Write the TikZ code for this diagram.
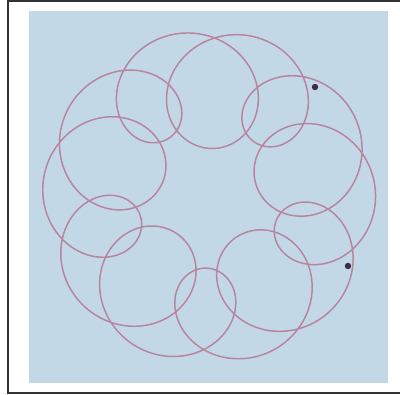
\documentclass[tikz,border=0pt]{standalone}
\usepackage{xcolor}
\definecolor{panelblue}{HTML}{C3D8E6}
\definecolor{spiromauve}{HTML}{B7859F}
\definecolor{pendot}{HTML}{3A2C44}
\definecolor{framegray}{HTML}{333333}

\begin{document}
\begin{tikzpicture}[
        x=0.25mm, y=-0.25mm,
        frame/.style={draw=framegray, line width=0.8pt},
        panel/.style={fill=panelblue},
        spiro/.style={draw=spiromauve, line width=1.05pt, line join=round},
        pen/.style={circle, fill=pendot, inner sep=0pt, minimum size=1.6mm},
    ]
    \useasboundingbox (0,0) rectangle (400,394);

    % frame and coloured panel
    \draw[frame] (404,1) -- (8,1) -- (8,393) -- (404,393);
    \fill[panel] (29,11) rectangle (388,383);

    % the looped curve
    \begin{scope}[shift={(209,197)}]
        \draw[spiro] plot[domain=0:360, samples=1600, smooth, variable=\t]
            ({113*(cos(\t-20) - 0.47*cos(11*\t-20) + 0.1*cos(6*\t-20))},
             {-113*(sin(\t-20) - 0.47*sin(11*\t-20) + 0.1*sin(6*\t-20))});
    \end{scope}

    \node[pen] (penA) at (315,87) {};
    \node[pen] (penB) at (348,266) {};
\end{tikzpicture}
\end{document}
